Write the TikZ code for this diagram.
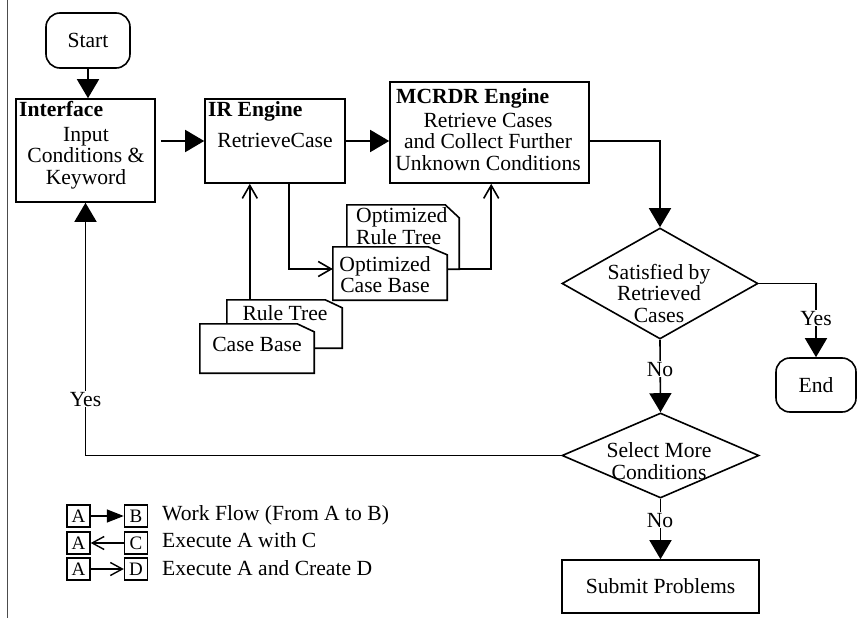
\documentclass[tikz,border=0pt]{standalone}
\usepackage{fontspec}
\setmainfont{Liberation Serif}
\usetikzlibrary{arrows.meta,shapes.geometric,calc}
\newcommand\docoutline[3]{\draw[doc] (#1.south west) -- (#1.north west) -- ([xshift=-#2pt]#1.north east) -- ([yshift=-#3pt]#1.north east) -- (#1.south east) -- cycle;}
\begin{document}
\begin{tikzpicture}[x=1pt,y=-1pt,
  every node/.style={font=\fontsize{21.6}{21.5}\selectfont},
  box/.style={draw, line width=1.6pt, inner sep=0pt},
  term/.style={box, rounded corners=14pt},
  dec/.style={draw, diamond, line width=1.6pt, inner sep=0pt, aspect=1.77},
  hidden/.style={inner sep=0pt},
  doc/.style={draw, line width=1.6pt, fill=white, line join=miter},
  flow/.style={line width=1.6pt, -{Triangle[length=19pt,width=22pt]}},
  exec/.style={line width=1.6pt, -{Straight Barb[length=13pt,width=15pt]}},
  lflow/.style={line width=1.4pt, -{Triangle[length=17pt,width=13pt]}},
  lexec/.style={line width=1.4pt, -{Straight Barb[length=12pt,width=13pt]}},
  txt/.style={inner sep=0pt, anchor=base, align=center},
  lbl/.style={fill=white, inner sep=1pt, anchor=base},
  lgbox/.style={draw, line width=1.4pt, minimum width=23pt, minimum height=22pt, inner sep=0pt, font=\fontsize{19}{19}\selectfont}
]
\useasboundingbox (0,0) rectangle (863,618);
\draw[line width=1pt, black!70] (7,0) -- (7,618);

% main boxes
\node[term, minimum width=84pt, minimum height=55pt] (start) at (88,40.5) {Start};
\node[box, minimum width=139pt, minimum height=103pt] (iface) at (85.5,150.5) {};
\node[txt, anchor=base west] (ifaceT) at (19,117) {\bfseries Interface};
\node[txt] (ifaceB) at (86,184) {Input\\Conditions \&\\Keyword};

\node[box, minimum width=140pt, minimum height=84pt] (ir) at (275,141) {};
\node[txt, anchor=base west] (irT) at (208,117) {\bfseries IR Engine};
\node[txt] (irB) at (275,147) {RetrieveCase};

\node[box, minimum width=199pt, minimum height=101pt] (mc) at (489.5,132.5) {};
\node[txt, anchor=base west] (mcT) at (396,103) {\bfseries MCRDR Engine};
\node[txt] (mcB) at (488,170) {Retrieve Cases\\and Collect Further\\Unknown Conditions};

\node[dec, minimum width=196pt, minimum height=111pt] (d1) at (660,283.5) {};
\node[txt] (d1T) at (659,322) {Satisfied by\\Retrieved\\Cases};
\node[term, minimum width=80pt, minimum height=54pt] (end) at (816,385) {End};
\node[dec, minimum width=197pt, minimum height=85pt] (d2) at (660.5,455.5) {};
\node[txt] (d2T) at (659,479) {Select More\\Conditions};
\node[box, minimum width=197pt, minimum height=53pt] (sub) at (660.5,586.5) {Submit Problems};

% documents
\node[hidden, minimum width=112pt, minimum height=64pt] (ort) at (403,237) {};
\node[hidden, minimum width=114pt, minimum height=53pt] (ocb) at (390,273.5) {};
\node[hidden, minimum width=115pt, minimum height=48pt] (rt) at (284.5,324) {};
\node[hidden, minimum width=114pt, minimum height=49pt] (cb) at (257,348.5) {};

% workflow connectors
\draw[flow] (start.south) -- (start.south |- iface.north);
\draw[flow, shorten <=5pt] (iface.east |- ir.west) -- (ir.west);
\draw[flow] (ir.east) -- (ir.east -| mc.west);
\draw[flow] (ir.east -| mc.east) -| (d1.north);
\draw[flow] (d1.east) -| (end.north);
\draw[flow] (d1.south) -- (d2.north);
\draw[flow] (d2.south) -- (sub.north);
\draw[flow] (d2.west) -| (iface.south);

\node[lbl] (yesL) at (85.5,406) {Yes};
\node[lbl] (yesR) at (816,325) {Yes};
\node[lbl] (no1) at (660,376) {No};
\node[lbl] (no2) at (660,527) {No};

% execute connectors
\draw[exec] ([xshift=23pt]rt.north west) -- ([xshift=23pt]rt.north west |- ir.south);
\draw[exec] ([xshift=85pt]ir.south west) |- ([yshift=4.5pt]ocb.west);
\draw[exec] (ort.south east) -| ([xshift=102pt]mc.south west);

\docoutline{ort}{14}{13}
\node[txt, anchor=base west, align=left, font=\fontsize{21.6}{21.5}\selectfont] (ortT) at (356,244) {Optimized\\Rule Tree};
\docoutline{ocb}{19}{8}
\node[txt, font=\fontsize{21.6}{20.5}\selectfont] (ocbT) at (385,292) {Optimized\\Case Base};
\docoutline{rt}{17}{8}
\node[txt] (rtT) at (285,320) {Rule Tree};
\docoutline{cb}{17}{8}
\node[txt] (cbT) at (257,351) {Case Base};

% legend
\node[lgbox] (la1) at (78.5,516) {A};
\node[lgbox] (lb) at (136,516) {B};
\draw[lflow] (la1) -- (lb);
\node[txt, anchor=base west] (lt1) at (162,520) {Work Flow (From A to B)};
\node[lgbox] (la2) at (78.5,543) {A};
\node[lgbox] (lc) at (136,543) {C};
\draw[lexec] (lc) -- (la2);
\node[txt, anchor=base west] (lt2) at (162,547) {Execute A with C};
\node[lgbox] (la3) at (78.5,569) {A};
\node[lgbox] (ld) at (136,569) {D};
\draw[lexec] (la3) -- (ld);
\node[txt, anchor=base west] (lt3) at (162,575) {Execute A and Create D};
\end{tikzpicture}
\end{document}
